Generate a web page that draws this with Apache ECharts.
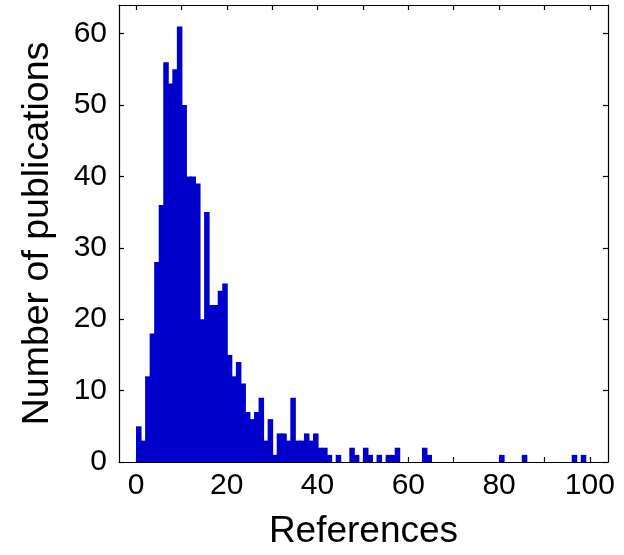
<!DOCTYPE html>
<html>
<head>
<meta charset="utf-8">
<script src="https://cdn.jsdelivr.net/npm/echarts@6/dist/echarts.min.js"></script>
<style>
html,body{margin:0;padding:0;background:#fff;}
#chart{width:624px;height:555px;}
</style>
</head>
<body>
<div id="chart"></div>
<script>
// Bin start (number of references), each bin is 1 wide
var binStarts = [];
for (var i = 0; i < 100; i++) binStarts.push(i);
// Number of publications per bin
var counts = [
  5, 3, 12, 18, 28, 36, 56, 53, 55, 61,
  50, 40, 40, 39, 20, 35, 22, 22, 24, 25,
  15, 12, 14, 11, 7, 6, 7, 9, 3, 6,
  1, 4, 4, 3, 9, 3, 3, 4, 3, 4,
  2, 2, 1, 0, 1, 0, 0, 2, 1, 0,
  2, 1, 0, 1, 0, 1, 1, 2, 0, 0,
  0, 0, 0, 2, 1, 0, 0, 0, 0, 0,
  0, 0, 0, 0, 0, 0, 0, 0, 0, 0,
  1, 0, 0, 0, 0, 1, 0, 0, 0, 0,
  0, 0, 0, 0, 0, 0, 1, 0, 1, 0
];
var xTicks = [0, 10, 20, 30, 40, 50, 60, 70, 80, 90, 100];
var xLabels = [0, 20, 40, 60, 80, 100];
var yTicks = [0, 10, 20, 30, 40, 50, 60];

var data = binStarts.map(function (b, i) { return [b, b + 1, counts[i]]; });

var FONT = 'Liberation Sans';
var chart = echarts.init(document.getElementById('chart'), null, {renderer: 'canvas'});
var axisLineStyle = {color: '#000', width: 1.2};
chart.setOption({
  animation: false,
  backgroundColor: '#fff',
  grid: {left: 119, right: 16, top: 5, bottom: 91, containLabel: false},
  xAxis: [{
    type: 'value', min: -3.75, max: 104, position: 'bottom',
    name: 'References', nameLocation: 'middle', nameGap: 51,
    nameTextStyle: {fontFamily: FONT, fontSize: 37, color: '#000'},
    axisLine: {show: true, onZero: false, lineStyle: axisLineStyle},
    axisTick: {show: true, inside: true, length: 5, customValues: xTicks, lineStyle: {color: '#000', width: 1.2}},
    axisLabel: {show: true, customValues: xLabels, margin: 9, fontFamily: FONT, fontSize: 30, color: '#000'},
    splitLine: {show: false}
  }, {
    type: 'value', min: -3.75, max: 104, position: 'top',
    axisLine: {show: true, onZero: false, lineStyle: axisLineStyle},
    axisTick: {show: true, inside: true, length: 5, customValues: xTicks, lineStyle: {color: '#000', width: 1.2}},
    axisLabel: {show: false},
    splitLine: {show: false}
  }],
  yAxis: [{
    type: 'value', min: 0, max: 64, position: 'left',
    name: 'Number of publications', nameLocation: 'middle', nameGap: 62, nameRotate: 90,
    nameTextStyle: {fontFamily: FONT, fontSize: 37.5, color: '#000'},
    axisLine: {show: true, onZero: false, lineStyle: axisLineStyle},
    axisTick: {show: true, inside: true, length: 5, customValues: yTicks, lineStyle: {color: '#000', width: 1.2}},
    axisLabel: {show: true, customValues: yTicks, margin: 12, fontFamily: FONT, fontSize: 30, color: '#000'},
    splitLine: {show: false}
  }, {
    type: 'value', min: 0, max: 64, position: 'right',
    axisLine: {show: true, onZero: false, lineStyle: axisLineStyle},
    axisTick: {show: true, inside: true, length: 5, customValues: yTicks, lineStyle: {color: '#000', width: 1.2}},
    axisLabel: {show: false},
    splitLine: {show: false}
  }],
  series: [{
    type: 'custom',
    xAxisIndex: 0, yAxisIndex: 0,
    data: data,
    clip: true,
    renderItem: function (params, api) {
      var v = api.value(2);
      if (!v) return null;
      var p0 = api.coord([api.value(0), 0]);
      var p1 = api.coord([api.value(1), v]);
      return {
        type: 'rect',
        shape: {x: p0[0], y: p1[1], width: p1[0] - p0[0] + 1, height: p0[1] - p1[1]},
        style: {fill: '#0000CC'}
      };
    },
    z: 1
  }]
});
</script>
</body>
</html>
